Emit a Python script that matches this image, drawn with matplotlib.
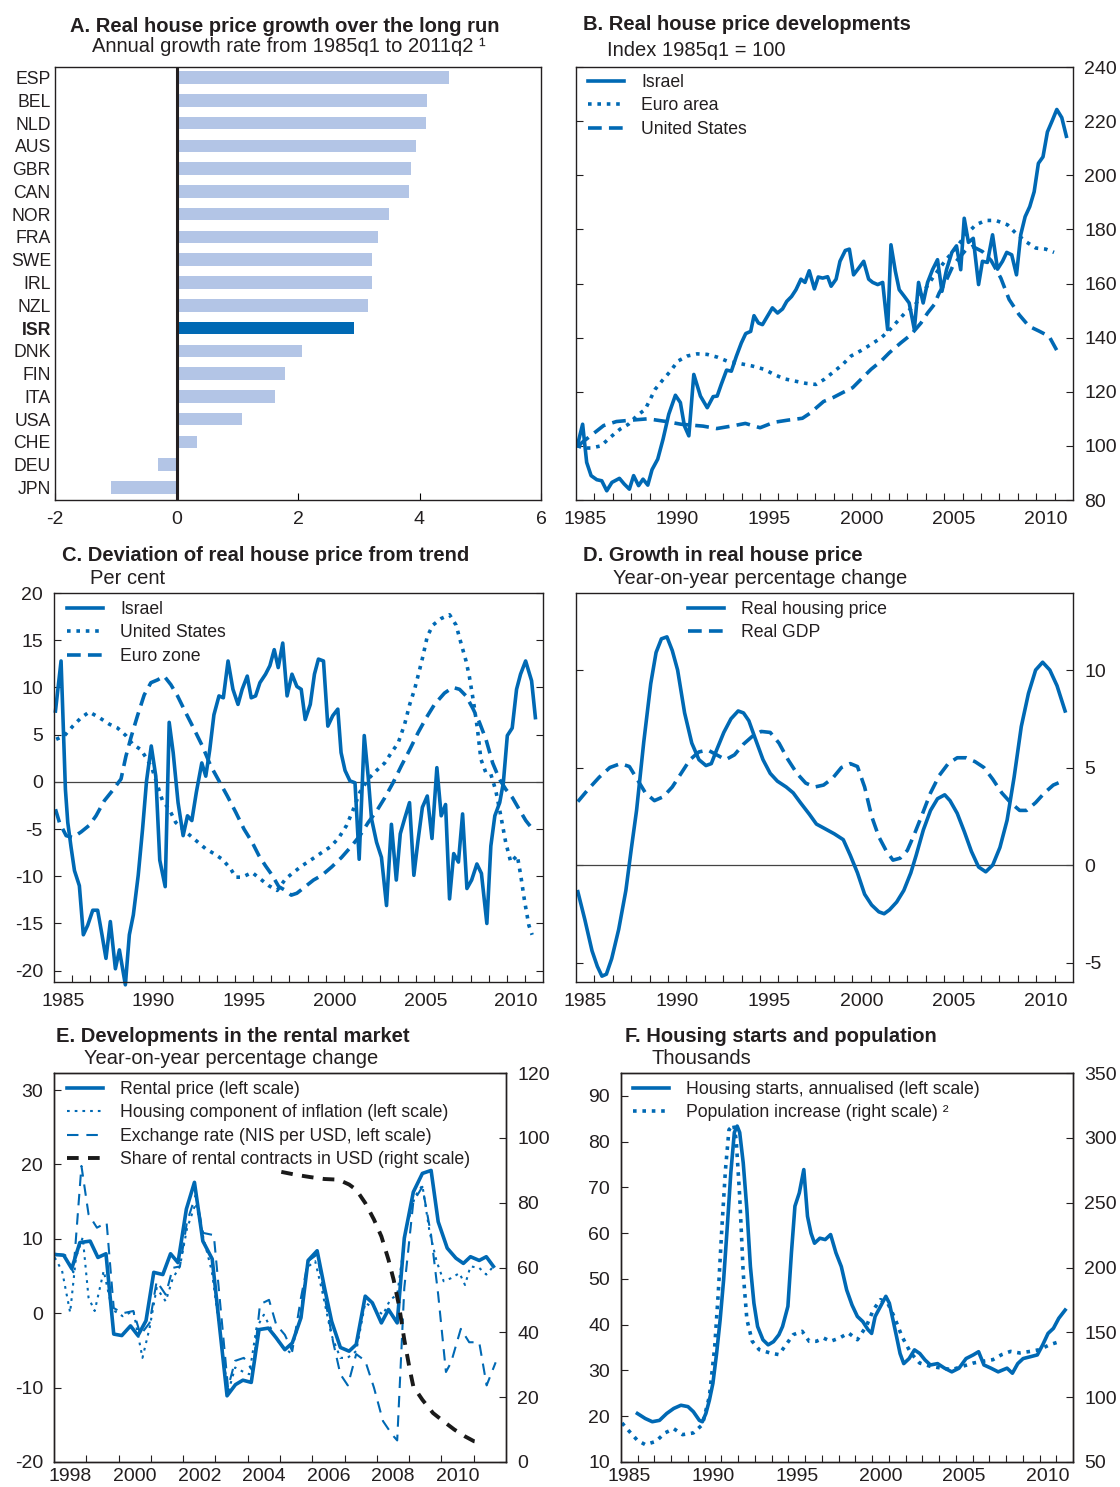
from __future__ import annotations

import matplotlib

matplotlib.use("Agg")
import matplotlib.pyplot as plt
import numpy as np

plt.rcParams["font.family"] = ["Liberation Sans", "DejaVu Sans"]
plt.rcParams["axes.unicode_minus"] = False

FIG_W, FIG_H = 1120, 1487
BLUE = "#0069b4"
LIGHT_BLUE = "#b3c5e6"
INK = "#231f20"

SOLID = "-"
DOTTED = (0, (1.0, 1.6))
DASHED = (0, (3.8, 2.0))

# ---- Panel A: long-run real house price growth (% per year)
countries = ["ESP", "BEL", "NLD", "AUS", "GBR", "CAN", "NOR", "FRA", "SWE", "IRL",
             "NZL", "ISR", "DNK", "FIN", "ITA", "USA", "CHE", "DEU", "JPN"]
growth = [4.48, 4.12, 4.11, 3.94, 3.86, 3.82, 3.50, 3.32, 3.22, 3.22,
          3.16, 2.92, 2.06, 1.79, 1.62, 1.08, 0.34, -0.30, -1.07]

# ---- Panel B: real house price index, 1985q1 = 100  (year, value)
b_israel = [(1985.07, 100), (1985.36, 108), (1985.58, 93.9), (1985.82, 89), (1986.13, 87.5),
            (1986.4, 87.1), (1986.67, 83.4), (1986.95, 86.5), (1987.36, 88), (1987.62, 85.9),
            (1987.9, 84), (1988.13, 89), (1988.4, 85.3), (1988.64, 87.7), (1988.9, 85.5),
            (1989.13, 91.2), (1989.44, 95.1), (1989.73, 102.5), (1990.04, 111.7), (1990.4, 118.7),
            (1990.67, 116), (1990.89, 107.4), (1991.13, 103.7), (1991.4, 126.4), (1991.76, 118.4),
            (1992.13, 114.1), (1992.45, 118.2), (1992.67, 118.4), (1992.89, 122.7), (1993.18, 128),
            (1993.44, 127.6), (1993.71, 133.1), (1993.98, 138), (1994.22, 141.5), (1994.49, 142.3),
            (1994.67, 148.1), (1994.91, 145.4), (1995.13, 144.8), (1995.4, 147.9), (1995.67, 151),
            (1995.95, 149.1), (1996.22, 150.6), (1996.45, 153.4), (1996.71, 155.2), (1996.95, 157.7),
            (1997.22, 161.6), (1997.44, 160.4), (1997.67, 164.7), (1997.95, 158), (1998.16, 162.4),
            (1998.4, 162), (1998.67, 162.5), (1998.86, 159), (1999.13, 161.6), (1999.34, 168.2),
            (1999.63, 172.2), (1999.85, 172.7), (2000.08, 163.2), (2000.36, 165.7), (2000.63, 168.2),
            (2000.9, 161.6), (2001.12, 160.4), (2001.39, 159.6), (2001.66, 160.4), (2001.93, 143),
            (2002.11, 174.3), (2002.35, 164.5), (2002.56, 157.7), (2002.83, 155.3), (2003.1, 152.8),
            (2003.38, 143), (2003.61, 160.4), (2003.86, 152.8), (2004.1, 160.4), (2004.37, 165.1),
            (2004.64, 168.8), (2004.88, 157.1), (2005.13, 165.1), (2005.42, 171.5), (2005.67, 173.9),
            (2005.9, 165.1), (2006.09, 184.1), (2006.32, 175.2), (2006.58, 176.7), (2006.87, 159.6),
            (2007.08, 168.2), (2007.35, 167.8), (2007.63, 178), (2007.9, 165.3), (2008.17, 168.2),
            (2008.4, 171.5), (2008.67, 170.6), (2008.93, 163.2), (2009.16, 178), (2009.4, 184.7),
            (2009.65, 188.4), (2009.89, 193.9), (2010.12, 204.4), (2010.37, 206.8), (2010.61, 216),
            (2010.88, 220.3), (2011.12, 224.3), (2011.39, 221.3), (2011.64, 214.4)]
b_euro = [(1985.1, 100), (1985.4, 99.2), (1985.8, 99.2), (1986.36, 100), (1986.85, 103.1),
          (1987.4, 106.2), (1987.85, 108), (1988.3, 111.1), (1988.76, 113.5), (1989.3, 120.9),
          (1989.67, 124), (1990.13, 127.6), (1990.53, 131.3), (1991.04, 133.2), (1991.58, 134),
          (1992.13, 133.8), (1992.67, 132.8), (1993.22, 131.3), (1993.85, 130.5), (1994.58, 129.5),
          (1995.22, 128.3), (1995.76, 126.4), (1996.3, 124.8), (1996.85, 124), (1997.49, 123.1),
          (1998.04, 122.7), (1998.49, 124.6), (1999.04, 127.6), (1999.49, 130.1), (1999.94, 133.2),
          (2000.48, 135.2), (2001.03, 137.5), (2001.57, 139.9), (2001.98, 142.4), (2002.38, 145.4),
          (2002.83, 148.8), (2003.38, 151.6), (2003.83, 156.5), (2004.37, 162), (2004.82, 166.3),
          (2005.18, 169.4), (2005.64, 173.1), (2006.18, 178), (2006.72, 181.7), (2007.26, 183.3),
          (2007.81, 183.3), (2008.44, 181.7), (2008.89, 178.6), (2009.43, 175.5), (2009.98, 173.1),
          (2010.52, 172.7), (2010.97, 171.5)]
b_us = [(1985.1, 100), (1985.6, 102.7), (1986.07, 105.2), (1986.5, 107.5), (1987.2, 109),
        (1988.0, 109.5), (1988.9, 110), (1989.9, 109), (1990.7, 108), (1991.9, 107.3),
        (1992.65, 106.4), (1993.6, 107.5), (1994.2, 108.3), (1995.0, 106.7), (1995.75, 108.7),
        (1996.5, 109.5), (1997.3, 110.2), (1997.7, 112), (1998.45, 116.4), (1998.95, 117.8),
        (1999.49, 119.7), (2000.03, 121.5), (2000.57, 125.2), (2001.03, 128.3), (2001.57, 131.3),
        (2002.02, 134.4), (2002.65, 138.1), (2003.2, 141.1), (2003.74, 145.4), (2004.1, 149.1),
        (2004.46, 152.2), (2004.73, 156.5), (2005.09, 160.8), (2005.46, 166.3), (2005.73, 168.8),
        (2006.18, 172.4), (2006.54, 173.7), (2007.08, 171.8), (2007.55, 168.5), (2008.08, 162),
        (2008.53, 154.1), (2009.07, 148.5), (2009.61, 144.2), (2010.16, 142.4), (2010.7, 140.5),
        (2011.24, 133.8)]

# ---- Panel C: deviation from trend (%)
c_israel = [(1985.08, 7.5), (1985.39, 12.8), (1985.63, -0.8), (1985.76, -4.3), (1985.94, -6.9),
            (1986.13, -9.4), (1986.4, -11), (1986.62, -16.2), (1986.86, -15.2), (1987.14, -13.6),
            (1987.41, -13.6), (1987.65, -16.2), (1987.87, -18.7), (1988.11, -14.8), (1988.39, -19.8),
            (1988.61, -17.8), (1988.94, -21.5), (1989.16, -16.2), (1989.38, -14.1), (1989.65, -9.9),
            (1989.89, -5), (1990.11, 0.1), (1990.37, 3.8), (1990.62, 0.6), (1990.84, -8.3),
            (1991.14, -11.1), (1991.36, 6.3), (1991.58, 3.1), (1991.85, -2.2), (1992.13, -5.7),
            (1992.37, -3.6), (1992.61, -4.1), (1992.86, -1.1), (1993.16, 2), (1993.38, 0.6),
            (1993.6, 3.4), (1993.83, 7.1), (1994.11, 9.1), (1994.35, 8.9), (1994.61, 12.8),
            (1994.88, 9.8), (1995.16, 8.2), (1995.39, 9.8), (1995.67, 11.2), (1995.89, 8.9),
            (1996.13, 9.1), (1996.37, 10.5), (1996.68, 11.4), (1996.92, 12.3), (1997.16, 14),
            (1997.38, 12.1), (1997.63, 14.7), (1997.87, 9.1), (1998.14, 11.4), (1998.41, 10.1),
            (1998.65, 9.8), (1998.87, 6.6), (1999.15, 8.2), (1999.38, 11.4), (1999.6, 13),
            (1999.88, 12.8), (2000.12, 5.9), (2000.39, 7), (2000.67, 7.7), (2000.85, 3.1),
            (2001.07, 1.2), (2001.34, 0.1), (2001.62, -0.1), (2001.85, -8.2), (2002.13, 4.9),
            (2002.35, 0.5), (2002.53, -3.9), (2002.81, -6.4), (2003.08, -8), (2003.36, -13.1),
            (2003.63, -4.5), (2003.9, -10.4), (2004.12, -5.5), (2004.36, -3.9), (2004.63, -2.2),
            (2004.87, -9.9), (2005.1, -6.2), (2005.34, -2.7), (2005.61, -1.5), (2005.87, -6),
            (2006.14, 1.5), (2006.38, -3.6), (2006.62, -2.4), (2006.84, -12.4), (2007.07, -7.6),
            (2007.33, -8.5), (2007.56, -3.4), (2007.8, -11.3), (2008.06, -10.4), (2008.35, -8.7),
            (2008.6, -9.7), (2008.9, -15), (2009.12, -6.8), (2009.34, -3.6), (2009.61, -2.2),
            (2009.81, -0.1), (2010.03, 4.9), (2010.3, 5.7), (2010.54, 9.8), (2010.76, 11.4),
            (2011.04, 12.8), (2011.37, 10.7), (2011.58, 6.8)]
c_us = [(1985.12, 4.5), (1985.58, 4.9), (1986.04, 5.9), (1986.5, 6.8), (1986.95, 7.4),
        (1987.5, 6.8), (1988.06, 6.1), (1988.51, 5.7), (1988.97, 4.9), (1989.34, 4),
        (1989.8, 3.4), (1990.07, 2.6), (1990.4, 1.5), (1990.72, -0.4), (1990.99, -2),
        (1991.36, -2.9), (1991.72, -4.3), (1992.28, -5.3), (1992.83, -6.2), (1993.38, -7.1),
        (1993.83, -7.6), (1994.29, -8.2), (1994.75, -9.2), (1995.03, -10.1), (1995.39, -10.1),
        (1995.94, -9.6), (1996.4, -10.3), (1996.86, -11), (1997.32, -11.5), (1997.78, -10.3),
        (1998.15, -9.7), (1998.69, -8.9), (1999.24, -8.2), (1999.7, -7.6), (2000.25, -6.9),
        (2000.7, -6), (2001.16, -4.6), (2001.53, -2.9), (2001.89, -1.1), (2002.35, 0.3),
        (2002.81, 1.2), (2003.26, 2), (2003.63, 3.1), (2004.0, 4.1), (2004.36, 6.1),
        (2004.64, 8.2), (2004.91, 9.8), (2005.19, 11.9), (2005.37, 13.3), (2005.61, 15.4),
        (2005.92, 16.6), (2006.38, 17.3), (2006.84, 17.7), (2007.2, 16.6), (2007.47, 14.7),
        (2007.75, 12.8), (2007.93, 11.2), (2008.17, 8.4), (2008.38, 5.6), (2008.57, 2.4),
        (2008.84, 1), (2009.12, 0.8), (2009.39, -0.9), (2009.67, -3.6), (2009.94, -6.4),
        (2010.22, -8.5), (2010.58, -7.8), (2010.77, -9.9), (2010.98, -12.6), (2011.22, -15.2),
        (2011.4, -16.2)]
c_euro = [(1985.08, -2.9), (1985.3, -4.3), (1985.67, -5.7), (1986.04, -5.9), (1986.5, -5.3),
          (1986.95, -4.6), (1987.32, -3.6), (1987.78, -2), (1988.24, -0.9), (1988.7, 0.3),
          (1988.97, 2.7), (1989.25, 4.7), (1989.61, 7), (1989.98, 9.2), (1990.35, 10.5),
          (1990.72, 10.8), (1991.08, 11.2), (1991.45, 10.3), (1991.82, 9.1), (1992.28, 7.3),
          (1992.73, 5.6), (1993.19, 3.8), (1993.65, 1.7), (1994.11, 0.1), (1994.57, -1.5),
          (1995.03, -3.2), (1995.49, -5), (1995.94, -6.4), (1996.31, -7.8), (1996.68, -8.9),
          (1997.05, -9.9), (1997.41, -11.1), (1997.78, -11.5), (1998.1, -12), (1998.41, -11.8),
          (1998.87, -11.1), (1999.33, -10.4), (1999.79, -9.9), (2000.34, -9), (2000.88, -8),
          (2001.43, -6.8), (2001.89, -5.7), (2002.35, -4.3), (2002.81, -3.1), (2003.26, -1.7),
          (2003.72, -0.1), (2004.18, 1.7), (2004.64, 3.4), (2005.1, 5.2), (2005.56, 6.8),
          (2006.01, 8.2), (2006.56, 9.4), (2007.02, 10), (2007.39, 9.8), (2007.75, 9.1),
          (2008.12, 7.8), (2008.49, 6.3), (2008.85, 4.5), (2009.22, 2), (2009.59, 0.3),
          (2009.95, -0.8), (2010.32, -1.7), (2010.68, -2.9), (2011.05, -4.1), (2011.42, -5)]

# ---- Panel D: year-on-year growth (%)
d_house = [(1985.1, -1.37), (1985.48, -2.8), (1985.87, -4.4), (1986.16, -5.2), (1986.41, -5.7),
           (1986.65, -5.6), (1986.94, -4.8), (1987.32, -3.3), (1987.71, -1.3), (1988.0, 0.8),
           (1988.29, 2.8), (1988.68, 6.3), (1989.06, 9.3), (1989.35, 10.9), (1989.64, 11.6),
           (1989.94, 11.7), (1990.23, 11.0), (1990.52, 10.0), (1990.9, 7.8), (1991.29, 6.25),
           (1991.68, 5.4), (1992.06, 5.1), (1992.35, 5.2), (1992.64, 5.9), (1993.03, 6.8),
           (1993.42, 7.5), (1993.81, 7.9), (1994.1, 7.8), (1994.39, 7.4), (1994.77, 6.4),
           (1995.16, 5.4), (1995.55, 4.7), (1995.94, 4.3), (1996.42, 4.0), (1996.8, 3.7),
           (1997.19, 3.2), (1997.68, 2.6), (1998.06, 2.1), (1998.45, 1.9), (1999.03, 1.6),
           (1999.52, 1.3), (1999.9, 0.5), (2000.29, -0.4), (2000.68, -1.5), (2001.06, -2.05),
           (2001.45, -2.4), (2001.74, -2.5), (2002.03, -2.3), (2002.42, -1.9), (2002.81, -1.3),
           (2003.19, -0.4), (2003.48, 0.5), (2003.87, 1.8), (2004.26, 2.8), (2004.64, 3.4),
           (2005.03, 3.6), (2005.32, 3.3), (2005.71, 2.65), (2006.1, 1.7), (2006.48, 0.7),
           (2006.87, -0.1), (2007.26, -0.35), (2007.64, 0.0), (2008.03, 0.9), (2008.42, 2.3),
           (2008.8, 4.5), (2009.19, 7.1), (2009.58, 8.8), (2009.97, 10.0), (2010.35, 10.4),
           (2010.74, 10.0), (2011.13, 9.2), (2011.57, 7.9)]
d_gdp = [(1985.1, 3.25), (1985.68, 3.9), (1986.26, 4.5), (1986.84, 5.0), (1987.42, 5.2),
         (1987.9, 5.05), (1988.29, 4.45), (1988.77, 3.7), (1989.26, 3.3), (1989.74, 3.5),
         (1990.23, 4.0), (1990.71, 4.7), (1991.19, 5.4), (1991.68, 5.8), (1992.16, 5.9),
         (1992.64, 5.65), (1993.13, 5.4), (1993.61, 5.65), (1994.1, 6.2), (1994.58, 6.6),
         (1995.06, 6.85), (1995.55, 6.8), (1996.03, 6.25), (1996.52, 5.4), (1997.0, 4.7),
         (1997.48, 4.2), (1997.97, 4.0), (1998.45, 4.1), (1998.94, 4.45), (1999.42, 5.0),
         (1999.9, 5.2), (2000.29, 5.05), (2000.68, 4.0), (2001.06, 2.5), (2001.45, 1.45),
         (2001.84, 0.75), (2002.22, 0.25), (2002.61, 0.35), (2003.0, 0.75), (2003.39, 1.6),
         (2003.77, 2.5), (2004.26, 3.7), (2004.74, 4.6), (2005.22, 5.2), (2005.71, 5.5),
         (2006.19, 5.5), (2006.68, 5.3), (2007.16, 5.0), (2007.64, 4.4), (2008.13, 3.7),
         (2008.61, 3.2), (2009.1, 2.8), (2009.48, 2.8), (2009.97, 3.2), (2010.45, 3.7),
         (2010.93, 4.1), (2011.42, 4.3)]

# ---- Panel E: rental market (left scale %, right scale % of contracts)
e_rent = [(1998.0, 7.9), (1998.3, 7.8), (1998.55, 6.0), (1998.8, 9.5), (1999.12, 9.7),
          (1999.36, 7.5), (1999.61, 8.0), (1999.85, -2.8), (2000.1, -3.0), (2000.37, -1.7),
          (2000.6, -3.0), (2000.85, -1.0), (2001.09, 5.5), (2001.37, 5.2), (2001.61, 8.0),
          (2001.84, 6.8), (2002.1, 14.0), (2002.35, 17.6), (2002.61, 9.7), (2002.9, 7.3),
          (2003.36, -11.1), (2003.62, -9.6), (2003.85, -9.0), (2004.11, -9.3), (2004.35, -2.2),
          (2004.64, -2.0), (2004.88, -3.3), (2005.15, -4.9), (2005.38, -4.0), (2005.65, -0.6),
          (2005.87, 7.1), (2006.15, 8.4), (2006.37, 3.6), (2006.6, -1.1), (2006.87, -4.6),
          (2007.14, -5.1), (2007.36, -4.2), (2007.64, 2.3), (2007.86, 1.4), (2008.14, -1.3),
          (2008.36, 0.5), (2008.63, -1.3), (2008.85, 10.1), (2009.13, 16.3), (2009.41, 18.8),
          (2009.68, 19.2), (2009.9, 12.3), (2010.18, 8.75), (2010.45, 7.4), (2010.68, 6.7),
          (2010.9, 7.6), (2011.17, 7.1), (2011.39, 7.6), (2011.61, 6.3)]
e_housing = [(1998.02, 7.5), (1998.25, 5.7), (1998.5, 0.1), (1998.68, 7.5), (1998.89, 10.2),
             (1999.07, 2.1), (1999.26, 0.3), (1999.54, 5.7), (1999.8, 0.5), (2000.13, -0.4),
             (2000.46, 0.3), (2000.74, -6.0), (2000.96, -2.0), (2001.18, 3.4), (2001.46, 1.6),
             (2001.68, 4.7), (2001.9, 6.3), (2002.12, 11.4), (2002.39, 14.8), (2002.62, 10.3),
             (2002.89, 5.6), (2003.39, -10.7), (2003.61, -7.3), (2003.83, -7.8), (2004.05, -8.2),
             (2004.27, -2.0), (2004.5, -0.2), (2004.82, -2.9), (2005.04, -4.4), (2005.32, -5.3),
             (2005.6, -1.3), (2005.82, 6.1), (2006.09, 7.0), (2006.31, 2.9), (2006.59, -2.9),
             (2006.87, -6.0), (2007.09, -6.0), (2007.36, -5.1), (2007.64, 1.4), (2007.91, 0.7),
             (2008.19, -0.2), (2008.41, 1.8), (2008.63, 2.5), (2008.91, 11.4), (2009.18, 15.7),
             (2009.41, 17.2), (2009.63, 11.0), (2009.85, 7.0), (2010.07, 4.3), (2010.29, 4.7),
             (2010.56, 5.4), (2010.73, 3.8), (2010.9, 6.3), (2011.17, 6.1), (2011.39, 5.2),
             (2011.61, 6.3)]
e_exchange = [(1998.02, 8.0), (1998.35, 7.8), (1998.6, 5.5), (1998.85, 19.8), (1999.07, 13.3),
              (1999.33, 11.5), (1999.63, 12.2), (1999.85, 0.7), (2000.13, 0.0), (2000.46, 0.3),
              (2000.68, -2.9), (2000.96, -1.3), (2001.18, 4.3), (2001.46, 2.5), (2001.68, 6.1),
              (2001.9, 6.3), (2002.12, 12.3), (2002.39, 15.9), (2002.62, 10.8), (2002.95, 10.5),
              (2003.39, -10.0), (2003.61, -6.4), (2003.88, -6.0), (2004.16, -7.8), (2004.38, 1.2),
              (2004.66, 1.8), (2004.88, -1.5), (2005.15, -2.9), (2005.38, -5.1), (2005.65, 2.1),
              (2005.87, 7.0), (2006.15, 7.9), (2006.37, 2.5), (2006.64, -3.75), (2006.87, -8.2),
              (2007.1, -9.7), (2007.36, -5.5), (2007.64, -6.4), (2007.91, -10.0), (2008.19, -14.5),
              (2008.47, -16.3), (2008.63, -17.1), (2008.85, 3.4), (2009.13, 15.0), (2009.41, 17.0),
              (2009.68, 10.5), (2009.9, 2.5), (2010.14, -7.9), (2010.3, -6.6), (2010.6, -2.1),
              (2010.86, -3.9), (2011.17, -3.9), (2011.4, -9.7), (2011.68, -6.6)]
e_usd_share = [(2005.04, 89.5), (2005.49, 88.6), (2005.93, 87.9), (2006.37, 87.3), (2006.81, 87.1),
               (2007.14, 85.6), (2007.36, 84.0), (2007.64, 79.9), (2007.91, 74.8), (2008.14, 69.6),
               (2008.36, 62.4), (2008.52, 56.2), (2008.69, 48.0), (2008.85, 37.7), (2009.02, 28.5),
               (2009.13, 23.3), (2009.41, 19.2), (2009.74, 15.1), (2010.07, 12.5), (2010.4, 10.0),
               (2010.73, 7.9), (2011.01, 6.4), (2011.17, 6.1)]

# ---- Panel F: housing starts (left, thousands) and population increase (right, thousands)
f_starts = [(1985.98, 20.6), (1986.45, 19.5), (1986.87, 18.8), (1987.3, 19.1), (1987.73, 20.6),
            (1988.15, 21.7), (1988.58, 22.4), (1989.0, 22.1), (1989.32, 21.0), (1989.68, 19.1),
            (1989.86, 18.8), (1990.07, 20.6), (1990.28, 23.5), (1990.49, 27.2), (1990.71, 33.7),
            (1990.92, 41.0), (1991.13, 49.8), (1991.35, 61.5), (1991.56, 73.2), (1991.77, 82.0),
            (1991.94, 83.4), (1992.09, 82.0), (1992.3, 75.4), (1992.52, 65.2), (1992.73, 52.7),
            (1992.94, 44.7), (1993.16, 39.6), (1993.48, 36.7), (1993.79, 35.6), (1994.11, 36.3),
            (1994.43, 37.8), (1994.65, 39.6), (1994.97, 44.0), (1995.18, 55.7), (1995.39, 65.9),
            (1995.65, 68.8), (1995.92, 73.9), (1996.14, 63.7), (1996.35, 60.0), (1996.56, 57.8),
            (1996.88, 58.9), (1997.2, 58.6), (1997.52, 59.7), (1997.84, 55.7), (1998.16, 52.7),
            (1998.48, 47.6), (1998.8, 44.3), (1999.12, 41.8), (1999.44, 40.7), (1999.76, 38.9),
            (1999.97, 38.1), (2000.18, 41.8), (2000.5, 44.0), (2000.82, 46.2), (2001.03, 44.7),
            (2001.25, 41.0), (2001.46, 37.4), (2001.67, 33.7), (2001.89, 31.5), (2002.21, 32.6),
            (2002.53, 34.5), (2002.85, 33.7), (2003.16, 32.3), (2003.48, 31.2), (2003.91, 31.5),
            (2004.33, 30.5), (2004.76, 29.7), (2005.19, 30.5), (2005.61, 32.6), (2006.04, 33.4),
            (2006.36, 34.1), (2006.68, 31.2), (2007.1, 30.5), (2007.53, 29.7), (2008.06, 30.5),
            (2008.38, 29.4), (2008.7, 31.5), (2009.02, 32.6), (2009.45, 33.0), (2009.87, 33.4),
            (2010.19, 35.6), (2010.51, 38.1), (2010.83, 39.2), (2011.15, 41.4), (2011.53, 43.2)]
f_population = [(1985.06, 80.1), (1985.49, 73.7), (1985.98, 66.7), (1986.45, 63.4), (1987.09, 65.9),
                (1987.62, 72.4), (1988.15, 75.7), (1988.68, 71.1), (1989.32, 72.4), (1989.86, 78.8),
                (1990.28, 100.6), (1990.6, 139.2), (1990.81, 180.3), (1991.03, 231.7), (1991.24, 275.4),
                (1991.45, 306.3), (1991.73, 310.2), (1991.88, 298.6), (1992.09, 254.9), (1992.3, 195.8),
                (1992.52, 159.8), (1992.84, 143.1), (1993.26, 136.6), (1993.9, 134.1), (1994.43, 132.8),
                (1994.86, 140.5), (1995.29, 148.2), (1995.82, 150.8), (1996.24, 143.1), (1996.67, 143.1),
                (1997.1, 145.6), (1997.52, 143.1), (1998.05, 145.6), (1998.59, 149.5), (1999.12, 144.3),
                (1999.65, 154.6), (2000.08, 167.5), (2000.5, 175.2), (2000.93, 172.6), (2001.35, 161.1),
                (2001.78, 146.9), (2002.31, 134.1), (2002.84, 126.3), (2003.48, 123.8), (2004.12, 122.5),
                (2004.76, 121.2), (2005.4, 123.8), (2006.04, 126.3), (2006.57, 127.6), (2007.21, 128.9),
                (2007.74, 132.8), (2008.27, 135.3), (2008.81, 134.1), (2009.45, 135.3), (2009.98, 136.6),
                (2010.62, 140.5), (2011.26, 143.1)]


def xy(series):
    arr = np.array(series, dtype=float)
    return arr[:, 0], arr[:, 1]


def add_axes_px(fig, left, top, right, bottom):
    return fig.add_axes([left / FIG_W, 1 - bottom / FIG_H,
                         (right - left) / FIG_W, (bottom - top) / FIG_H])


def fig_pt(x, y):
    return x / FIG_W, 1 - y / FIG_H


def frame(ax):
    for spine in ax.spines.values():
        spine.set_linewidth(1.0)
        spine.set_color(INK)


def year_axis(ax, start, end, labels, pad=8):
    ax.set_xlim(start, end)
    ax.set_xticks(np.arange(start + 1, end))
    ax.set_xticklabels([])
    ax.set_xticks([y + 0.5 for y in labels], minor=True)
    ax.set_xticklabels([str(y) for y in labels], minor=True)
    ax.tick_params(axis="x", which="major", direction="in", length=5, width=0.8, color=INK)
    ax.tick_params(axis="x", which="minor", length=0, labelsize=14, pad=pad, labelcolor=INK)


def y_ticks(ax, ticks, side):
    ax.set_yticks(ticks)
    ax.tick_params(axis="y", direction="in", length=5, width=0.8, color=INK,
                   labelsize=14, labelcolor=INK, pad=8,
                   left=True, right=True,
                   labelleft=(side == "left"), labelright=(side == "right"))


def twin_ticks(ax, ax2):
    ax.tick_params(axis="y", direction="in", length=5, width=0.8, color=INK,
                   labelsize=14, labelcolor=INK, pad=8, left=True, right=False)
    ax2.tick_params(axis="y", direction="in", length=5, width=0.8, color=INK,
                    labelsize=14, labelcolor=INK, pad=8, left=False, right=True)


def panel_title(fig, title, tx, ty, subtitle, sx, sy, ha="left"):
    fig.text(*fig_pt(tx, ty + 2), title, ha=ha, va="center", fontsize=14.5,
             fontweight="bold", color=INK)
    fig.text(*fig_pt(sx, sy + 2), subtitle, ha=ha, va="center", fontsize=14.5, color=INK)


def legend_at(fig, ax, handles, labels, x, y):
    return ax.legend(handles, labels, loc="upper left", bbox_to_anchor=fig_pt(x, y),
                     bbox_transform=fig.transFigure, frameon=False, borderpad=0,
                     borderaxespad=0, handlelength=2.05, handletextpad=0.95,
                     labelspacing=0.36, fontsize=12.7, labelcolor=INK)


fig = plt.figure(figsize=(FIG_W / 100, FIG_H / 100), dpi=100)

# ---------------- A
ax_a = add_axes_px(fig, 55, 67, 541, 500)
pos = np.arange(len(countries))
bar_colors = [BLUE if c == "ISR" else LIGHT_BLUE for c in countries]
ax_a.barh(pos, growth, height=0.55, color=bar_colors, zorder=2)
ax_a.axvline(0, color=INK, lw=2.2, zorder=3)
ax_a.set_xlim(-2, 6)
ax_a.set_ylim(len(countries) - 1 + 0.55, -0.46)
ax_a.set_xticks([-2, 0, 2, 4, 6])
ax_a.set_yticks(pos)
ax_a.set_yticklabels(countries)
for lab in ax_a.get_yticklabels():
    if lab.get_text() == "ISR":
        lab.set_fontweight("bold")
ax_a.tick_params(axis="y", length=0, labelsize=12.7, labelcolor=INK, pad=3)
ax_a.tick_params(axis="x", direction="in", length=5, width=0.8, labelsize=14,
                 labelcolor=INK, pad=8)
frame(ax_a)
panel_title(fig, "A. Real house price growth over the long run", 285, 24,
            "Annual growth rate from 1985q1 to 2011q2 \u00b9", 289, 45, ha="center")

# ---------------- B
ax_b = add_axes_px(fig, 576, 67, 1073, 500)
t, v = xy(b_israel)
l1, = ax_b.plot(t, v, color=BLUE, lw=2.6, ls=SOLID)
t, v = xy(b_euro)
l2, = ax_b.plot(t, v, color=BLUE, lw=2.6, ls=DOTTED)
t, v = xy(b_us)
l3, = ax_b.plot(t, v, color=BLUE, lw=2.6, ls=DASHED)
ax_b.set_ylim(80, 240)
y_ticks(ax_b, np.arange(80, 241, 20), "right")
year_axis(ax_b, 1985, 2012, [1985, 1990, 1995, 2000, 2005, 2010])
frame(ax_b)
legend_at(fig, ax_b, [l1, l2, l3], ["Israel", "Euro area", "United States"], 588, 74)
panel_title(fig, "B. Real house price developments", 583, 23,
            "Index 1985q1 = 100", 607, 48)

# ---------------- C
ax_c = add_axes_px(fig, 54, 593, 543, 982)
ax_c.axhline(0, color="#444444", lw=0.9)
t, v = xy(c_israel)
l1, = ax_c.plot(t, v, color=BLUE, lw=2.6, ls=SOLID, clip_on=False)
t, v = xy(c_us)
l2, = ax_c.plot(t, v, color=BLUE, lw=2.6, ls=DOTTED)
t, v = xy(c_euro)
l3, = ax_c.plot(t, v, color=BLUE, lw=2.6, ls=DASHED)
ax_c.set_ylim(-21.2, 20)
y_ticks(ax_c, np.arange(-20, 21, 5), "left")
year_axis(ax_c, 1985, 2012, [1985, 1990, 1995, 2000, 2005, 2010])
frame(ax_c)
legend_at(fig, ax_c, [l1, l2, l3], ["Israel", "United States", "Euro zone"], 67, 601)
panel_title(fig, "C. Deviation of real house price from trend", 62, 553,
            "Per cent", 90, 577)

# ---------------- D
ax_d = add_axes_px(fig, 576, 593, 1073, 982)
ax_d.axhline(0, color="#444444", lw=0.9)
t, v = xy(d_house)
l1, = ax_d.plot(t, v, color=BLUE, lw=2.6, ls=SOLID)
t, v = xy(d_gdp)
l2, = ax_d.plot(t, v, color=BLUE, lw=2.6, ls=DASHED)
ax_d.set_ylim(-6, 13.95)
y_ticks(ax_d, [-5, 0, 5, 10], "right")
year_axis(ax_d, 1985, 2012, [1985, 1990, 1995, 2000, 2005, 2010])
frame(ax_d)
legend_at(fig, ax_d, [l1, l2], ["Real housing price", "Real GDP"], 688, 601)
panel_title(fig, "D. Growth in real house price", 583, 553,
            "Year-on-year percentage change", 613, 577)

# ---------------- E
ax_e = add_axes_px(fig, 54, 1073, 506, 1462)
ax_e2 = ax_e.twinx()
t, v = xy(e_rent)
l1, = ax_e.plot(t, v, color=BLUE, lw=2.6, ls=SOLID, zorder=4)
t, v = xy(e_housing)
l2, = ax_e.plot(t, v, color=BLUE, lw=1.5, ls=(0, (1.3, 2.4)), zorder=3)
t, v = xy(e_exchange)
l3, = ax_e.plot(t, v, color=BLUE, lw=1.5, ls=(0, (5.5, 3.8)), zorder=3)
t, v = xy(e_usd_share)
l4, = ax_e2.plot(t, v, color="#1a1a1a", lw=2.8, ls=(0, (3.0, 2.4)))
ax_e.set_ylim(-20, 32.3)
ax_e2.set_ylim(0, 120)
ax_e.set_yticks(np.arange(-20, 31, 10))
ax_e2.set_yticks(np.arange(0, 121, 20))
twin_ticks(ax_e, ax_e2)
year_axis(ax_e, 1998, 2012, [1998, 2000, 2002, 2004, 2006, 2008, 2010], pad=4)
frame(ax_e)
frame(ax_e2)
legend_at(fig, ax_e2, [l1, l2, l3, l4],
          ["Rental price (left scale)", "Housing component of inflation (left scale)",
           "Exchange rate (NIS per USD, left scale)",
           "Share of rental contracts in USD (right scale)"], 67, 1081)
panel_title(fig, "E. Developments in the rental market", 56, 1035,
            "Year-on-year percentage change", 84, 1057)

# ---------------- F
ax_f = add_axes_px(fig, 621, 1073, 1073, 1462)
ax_f2 = ax_f.twinx()
t, v = xy(f_starts)
l1, = ax_f.plot(t, v, color=BLUE, lw=2.6, ls=SOLID, zorder=3)
t, v = xy(f_population)
l2, = ax_f2.plot(t, v, color=BLUE, lw=2.6, ls=DOTTED)
ax_f.set_ylim(10, 95)
ax_f2.set_ylim(50, 350)
ax_f.set_yticks(np.arange(10, 91, 10))
ax_f2.set_yticks(np.arange(50, 351, 50))
twin_ticks(ax_f, ax_f2)
year_axis(ax_f, 1985, 2012, [1985, 1990, 1995, 2000, 2005, 2010], pad=4)
frame(ax_f)
frame(ax_f2)
legend_at(fig, ax_f2, [l1, l2],
          ["Housing starts, annualised (left scale)", "Population increase (right scale) \u00b2"],
          633, 1081)
panel_title(fig, "F. Housing starts and population", 625, 1035, "Thousands", 652, 1057)

fig.savefig("out.png", dpi=100)
